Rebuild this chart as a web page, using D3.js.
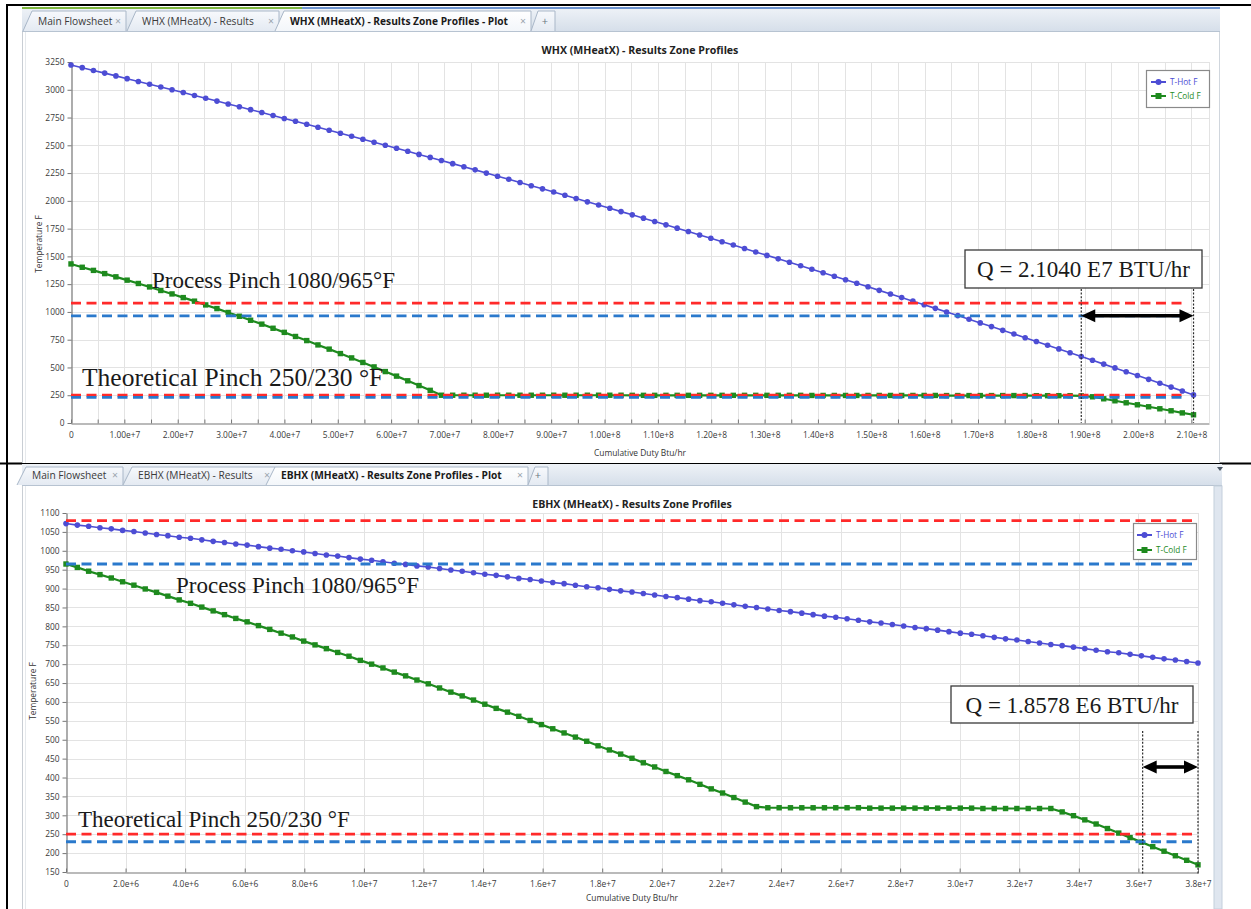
<!DOCTYPE html>
<html>
<head>
<meta charset="utf-8">
<title>Results Zone Profiles</title>
<script src="https://cdn.jsdelivr.net/npm/d3@7"></script>
<style>
  html, body { margin: 0; padding: 0; background: #ffffff; }
  svg { display: block; }
  .ui { font-family: "Open Sans", "Noto Sans", sans-serif; }
  .note { font-family: "Liberation Serif", "Times New Roman", serif; fill: #1a1a1a; }
</style>
</head>
<body>
<svg id="page" width="1251" height="909"></svg>
<script>
// ---------------- data ----------------
const MM = 1e6; // duty arrays are stored in MMBtu/hr

const seriesNames = ["T-Hot F", "T-Cold F"];
const xAxisTitle = "Cumulative Duty Btu/hr";
const yAxisTitle = "Temperature F";

const processPinch = [1080, 965];     // hot / cold, °F
const theoreticalPinch = [250, 230];  // hot / cold, °F

// WHX exchanger
const whxTabs = ["Main Flowsheet", "WHX (MHeatX) - Results", "WHX (MHeatX) - Results Zone Profiles - Plot"];
const whxTitle = "WHX (MHeatX) - Results Zone Profiles";
const whxQ = 2.1040e7;
const whxYTicks = [0, 250, 500, 750, 1000, 1250, 1500, 1750, 2000, 2250, 2500, 2750, 3000, 3250];
const whxXTicks = [0, 5e6, 1e7, 1.5e7, 2e7, 2.5e7, 3e7, 3.5e7, 4e7, 4.5e7, 5e7, 5.5e7, 6e7, 6.5e7, 7e7, 7.5e7,
  8e7, 8.5e7, 9e7, 9.5e7, 1e8, 1.05e8, 1.1e8, 1.15e8, 1.2e8, 1.25e8, 1.3e8, 1.35e8, 1.4e8, 1.45e8, 1.5e8,
  1.55e8, 1.6e8, 1.65e8, 1.7e8, 1.75e8, 1.8e8, 1.85e8, 1.9e8, 1.95e8, 2e8, 2.05e8, 2.1e8];
const whxDuty = [0, 2.104, 4.208, 6.312, 8.416, 10.52, 12.624, 14.728, 16.832, 18.936,
  21.04, 23.144, 25.248, 27.352, 29.456, 31.56, 33.664, 35.768, 37.872, 39.976,
  42.08, 44.184, 46.288, 48.392, 50.496, 52.6, 54.704, 56.808, 58.912, 61.016,
  63.12, 65.224, 67.328, 69.432, 71.536, 73.64, 75.744, 77.848, 79.952, 82.056,
  84.16, 86.264, 88.368, 90.472, 92.576, 94.68, 96.784, 98.888, 100.992, 103.096,
  105.2, 107.304, 109.408, 111.512, 113.616, 115.72, 117.824, 119.928, 122.032, 124.136,
  126.24, 128.344, 130.448, 132.552, 134.656, 136.76, 138.864, 140.968, 143.072, 145.176,
  147.28, 149.384, 151.488, 153.592, 155.696, 157.8, 159.904, 162.008, 164.112, 166.216,
  168.32, 170.424, 172.528, 174.632, 176.736, 178.84, 180.944, 183.048, 185.152, 187.256,
  189.36, 191.464, 193.568, 195.672, 197.776, 199.88, 201.984, 204.088, 206.192, 208.296,
  210.4];
const whxHot = [3223, 3199, 3174, 3150, 3125, 3100, 3075, 3050, 3025, 3000,
  2975, 2949, 2924, 2898, 2872, 2847, 2821, 2795, 2768, 2742,
  2716, 2689, 2663, 2636, 2609, 2582, 2555, 2528, 2501, 2473,
  2446, 2418, 2391, 2363, 2335, 2307, 2279, 2250, 2222, 2194,
  2165, 2136, 2108, 2079, 2050, 2021, 1991, 1962, 1933, 1903,
  1874, 1844, 1814, 1784, 1754, 1724, 1693, 1663, 1632, 1602,
  1571, 1540, 1509, 1478, 1447, 1416, 1384, 1353, 1321, 1290,
  1258, 1226, 1194, 1162, 1129, 1097, 1065, 1032, 999, 967,
  934, 901, 868, 834, 801, 768, 734, 700, 667, 633,
  599, 565, 530, 496, 462, 427, 393, 358, 323, 288,
  253];
const whxCold = [1432, 1402, 1374, 1345, 1316, 1286, 1256, 1225, 1193, 1162,
  1129, 1097, 1063, 1030, 995, 961, 925, 890, 853, 816,
  779, 742, 703, 665, 625, 586, 545, 505, 463, 422,
  380, 337, 294, 250, 250, 250, 250, 250, 250, 250,
  250, 250, 250, 250, 250, 250, 250, 250, 250, 250,
  249, 249, 249, 249, 249, 249, 249, 249, 249, 249,
  249, 249, 249, 249, 249, 249, 248, 248, 248, 248,
  248, 248, 248, 248, 248, 248, 248, 248, 247, 247,
  247, 247, 247, 247, 247, 247, 246, 246, 246, 246,
  244, 236, 218, 200, 182, 164, 146, 128, 110, 91,
  74];

// EBHX exchanger
const ebhxTabs = ["Main Flowsheet", "EBHX (MHeatX) - Results", "EBHX (MHeatX) - Results Zone Profiles - Plot"];
const ebhxTitle = "EBHX (MHeatX) - Results Zone Profiles";
const ebhxQ = 1.8578e6;
const ebhxYTicks = [150, 200, 250, 300, 350, 400, 450, 500, 550, 600, 650, 700, 750, 800, 850, 900, 950, 1000, 1050, 1100];
const ebhxXTicks = [0, 2e6, 4e6, 6e6, 8e6, 1e7, 1.2e7, 1.4e7, 1.6e7, 1.8e7, 2e7, 2.2e7, 2.4e7, 2.6e7, 2.8e7,
  3e7, 3.2e7, 3.4e7, 3.6e7, 3.8e7];
const ebhxDuty = [0, 0.38, 0.76, 1.14, 1.52, 1.9, 2.28, 2.66, 3.04, 3.42,
  3.8, 4.18, 4.56, 4.94, 5.32, 5.7, 6.08, 6.46, 6.84, 7.22,
  7.6, 7.98, 8.36, 8.74, 9.12, 9.5, 9.88, 10.26, 10.64, 11.02,
  11.4, 11.78, 12.16, 12.54, 12.92, 13.3, 13.68, 14.06, 14.44, 14.82,
  15.2, 15.58, 15.96, 16.34, 16.72, 17.1, 17.48, 17.86, 18.24, 18.62,
  19.0, 19.38, 19.76, 20.14, 20.52, 20.9, 21.28, 21.66, 22.04, 22.42,
  22.8, 23.18, 23.56, 23.94, 24.32, 24.7, 25.08, 25.46, 25.84, 26.22,
  26.6, 26.98, 27.36, 27.74, 28.12, 28.5, 28.88, 29.26, 29.64, 30.02,
  30.4, 30.78, 31.16, 31.54, 31.92, 32.3, 32.68, 33.06, 33.44, 33.82,
  34.2, 34.58, 34.96, 35.34, 35.72, 36.1, 36.48, 36.86, 37.24, 37.62,
  38.0];
const ebhxHot = [1072, 1068, 1065, 1061, 1058, 1054, 1051, 1047, 1043, 1040,
  1036, 1033, 1029, 1025, 1022, 1018, 1015, 1011, 1007, 1004,
  1000, 997, 993, 989, 986, 982, 978, 975, 971, 967,
  964, 960, 957, 953, 949, 946, 942, 938, 935, 931,
  927, 924, 920, 916, 913, 909, 905, 902, 898, 894,
  891, 887, 883, 879, 876, 872, 868, 865, 861, 857,
  853, 850, 846, 842, 839, 835, 831, 827, 824, 820,
  816, 812, 809, 805, 801, 797, 794, 790, 786, 782,
  779, 775, 771, 767, 764, 760, 756, 752, 749, 745,
  741, 737, 733, 730, 726, 722, 718, 714, 711, 707,
  703];
const ebhxCold = [965, 956, 946, 937, 928, 918, 909, 899, 890, 880,
  870, 861, 851, 841, 831, 821, 812, 802, 792, 782,
  772, 761, 751, 741, 731, 721, 710, 700, 690, 679,
  669, 658, 648, 637, 626, 616, 605, 594, 583, 573,
  562, 551, 540, 529, 518, 507, 496, 484, 473, 462,
  451, 439, 428, 416, 405, 394, 382, 370, 359, 347,
  335, 323, 320, 320, 320, 320, 320, 320, 320, 320,
  320, 319, 319, 319, 319, 319, 319, 319, 319, 319,
  319, 318, 318, 318, 318, 318, 318, 318, 309, 299,
  288, 277, 265, 253, 241, 229, 217, 205, 193, 181,
  169];

// ---------------- drawing ----------------
const svg = d3.select("#page");
const COLORS = {
  hot: "#4d4dd4", cold: "#1e8a1e",
  pinchHot: "#ff2a2a", pinchCold: "#2a79cc",
  grid: "#e3e3e3", axis: "#767676", tick: "#3a3a3a"
};

const defs = svg.append("defs");
const barGrad = defs.append("linearGradient").attr("id", "tabBarGrad")
  .attr("x1", 0).attr("x2", 0).attr("y1", 0).attr("y2", 1);
barGrad.append("stop").attr("offset", "0%").attr("stop-color", "#eef2f7");
barGrad.append("stop").attr("offset", "100%").attr("stop-color", "#d6dfea");
const tabGrad = defs.append("linearGradient").attr("id", "tabGrad")
  .attr("x1", 0).attr("x2", 0).attr("y1", 0).attr("y2", 1);
tabGrad.append("stop").attr("offset", "0%").attr("stop-color", "#f7f9fc");
tabGrad.append("stop").attr("offset", "100%").attr("stop-color", "#e4eaf2");
const actGrad = defs.append("linearGradient").attr("id", "activeTabGrad")
  .attr("x1", 0).attr("x2", 0).attr("y1", 0).attr("y2", 1);
actGrad.append("stop").attr("offset", "0%").attr("stop-color", "#ffffff");
actGrad.append("stop").attr("offset", "100%").attr("stop-color", "#f3f6fa");

// document table rules behind the two screenshots
svg.append("line").attr("x1", 6).attr("x2", 1251).attr("y1", 5).attr("y2", 5)
  .attr("stroke", "#000").attr("stroke-width", 2);
svg.append("line").attr("x1", 0).attr("x2", 1251).attr("y1", 463.5).attr("y2", 463.5)
  .attr("stroke", "#000").attr("stroke-width", 2);
svg.append("line").attr("x1", 7).attr("x2", 7).attr("y1", 4).attr("y2", 909)
  .attr("stroke", "#000").attr("stroke-width", 2);

const panels = [
  {
    tabs: whxTabs, title: whxTitle, duty: whxDuty, hot: whxHot, cold: whxCold, q: whxQ,
    yTicks: whxYTicks, xTicks: whxXTicks, yDomain: [0, 3250], xMax: 2.133e8,
    gridStep: 5e6, labelStep: 1e7, xDigits: 2,
    frame: { x: 22, y: 8, w: 1198, h: 455 },
    bar: { y: 8, h: 23, textY: 24.5, textX: [38, 142, 290], closeX: [118, 271, 523], plusX: 545, stripe: true },
    plot: { x0: 71, x1: 1209, y0: 62, y1: 423 },
    titleY: 54, xTickPad: 9, xTitleY: 456, yTitle: { x: 42, y: 244 },
    legend: { x: 1146, y: 70, w: 63, h: 37, rows: [82, 96], symX: 1151, textX: 1170 },
    processLabel: { x: 152, y: 288, size: 23 }, theoLabel: { x: 82, y: 386, size: 25.5 },
    pinchEnd: 2.086e8,
    qBox: { x: 965, y: 250, w: 237, h: 38 }, dotTop: 289, dotBottom: 423, arrowY: null
  },
  {
    tabs: ebhxTabs, title: ebhxTitle, duty: ebhxDuty, hot: ebhxHot, cold: ebhxCold, q: ebhxQ,
    yTicks: ebhxYTicks, xTicks: ebhxXTicks, yDomain: [150, 1100], xMax: 3.8e7,
    gridStep: 2e6, labelStep: 2e6, xDigits: 1,
    frame: { x: 22, y: 464, w: 1200, h: 445 },
    bar: { y: 464, h: 21, textY: 478.5, textX: [32, 138, 281], closeX: [115, 267, 520], plusX: 538, stripe: false },
    plot: { x0: 66, x1: 1198, y0: 513, y1: 872 },
    titleY: 508, xTickPad: 9, xTitleY: 901, yTitle: { x: 36, y: 691 },
    legend: { x: 1133, y: 523, w: 63, h: 36, rows: [535, 550], symX: 1137, textX: 1156 },
    processLabel: { x: 176, y: 593, size: 23 }, theoLabel: { x: 78, y: 827, size: 23 },
    pinchEnd: 3.783e7,
    qBox: { x: 951, y: 686, w: 242, h: 37 }, dotTop: 731, dotBottom: 874, arrowY: 767
  }
];

function drawTabs(g, p) {
  const f = p.frame, b = p.bar;
  g.append("rect").attr("x", f.x).attr("y", b.y).attr("width", f.w).attr("height", b.h)
    .attr("fill", "url(#tabBarGrad)");
  g.append("line").attr("x1", f.x).attr("x2", f.x + f.w).attr("y1", b.y + b.h + 0.5).attr("y2", b.y + b.h + 0.5)
    .attr("stroke", "#b7c3d1");
  if (b.stripe) {
    g.append("rect").attr("x", f.x).attr("y", b.y - 1).attr("width", 280).attr("height", 2).attr("fill", "#7fb83f");
    g.append("rect").attr("x", f.x + 280).attr("y", b.y - 1).attr("width", f.w - 280).attr("height", 2).attr("fill", "#6c93cf");
  }
  const top = b.y + 3, bot = b.y + b.h;
  const order = p.tabs.map((_, i) => i).filter(i => i !== p.tabs.length - 1).concat([p.tabs.length - 1]);
  order.forEach(i => {
    const active = i === p.tabs.length - 1;
    const x0 = b.textX[i] - 15, x1 = b.closeX[i] + 8;
    g.append("path")
      .attr("d", `M${x0},${bot} L${x0 + 9},${top} L${x1},${top} L${x1},${bot}`)
      .attr("fill", active ? "url(#activeTabGrad)" : "url(#tabGrad)")
      .attr("stroke", "#a9b7c8").attr("stroke-width", 1);
    g.append("text").attr("class", "ui").attr("x", b.textX[i]).attr("y", b.textY)
      .attr("font-size", 10.2).attr("font-weight", active ? 700 : 400)
      .attr("fill", active ? "#1a1a1a" : "#3a3a3a").text(p.tabs[i]);
    g.append("text").attr("class", "ui").attr("x", b.closeX[i]).attr("y", b.textY)
      .attr("font-size", 10.5).attr("text-anchor", "middle").attr("fill", "#9aa3ad").text("×");
  });
  g.append("path")
    .attr("d", `M${b.closeX[2] + 8},${bot} L${b.closeX[2] + 15},${top} L${b.plusX + 10},${top} L${b.plusX + 10},${bot}`)
    .attr("fill", "url(#tabGrad)").attr("stroke", "#a9b7c8");
  g.append("text").attr("class", "ui").attr("x", b.plusX).attr("y", b.textY)
    .attr("font-size", 11).attr("text-anchor", "middle").attr("fill", "#6c7580").text("+");
}

function drawPanel(p) {
  const g = svg.append("g");
  const f = p.frame;
  g.append("rect").attr("x", f.x).attr("y", f.y).attr("width", f.w).attr("height", f.h)
    .attr("fill", "#ffffff");
  drawTabs(g, p);
  const innerTop = p.bar.y + p.bar.h + 1;
  g.append("line").attr("x1", f.x + 0.5).attr("x2", f.x + 0.5).attr("y1", innerTop).attr("y2", f.y + f.h)
    .attr("stroke", "#c9ced4");
  g.append("line").attr("x1", f.x + 3.5).attr("x2", f.x + 3.5).attr("y1", innerTop).attr("y2", f.y + f.h)
    .attr("stroke", "#e6e9ec");
  g.append("line").attr("x1", f.x + f.w - 0.5).attr("x2", f.x + f.w - 0.5).attr("y1", innerTop).attr("y2", f.y + f.h)
    .attr("stroke", "#d0d6dd");

  const x = d3.scaleLinear().domain([0, p.xMax]).range([p.plot.x0, p.plot.x1]);
  const y = d3.scaleLinear().domain(p.yDomain).range([p.plot.y1, p.plot.y0]);

  // grid
  const grid = g.append("g").attr("stroke", COLORS.grid).attr("stroke-width", 1);
  grid.selectAll("line.h").data(p.yTicks.slice(1)).join("line").attr("class", "h")
    .attr("x1", p.plot.x0).attr("x2", p.plot.x1)
    .attr("y1", d => Math.round(y(d)) + 0.5).attr("y2", d => Math.round(y(d)) + 0.5);
  const vLines = d3.range(p.gridStep, p.xMax + 1, p.gridStep);
  if (vLines[vLines.length - 1] < p.xMax - 1) vLines.push(p.xMax);
  grid.selectAll("line.v").data(vLines).join("line").attr("class", "v")
    .attr("x1", d => Math.round(x(d)) + 0.5).attr("x2", d => Math.round(x(d)) + 0.5)
    .attr("y1", p.plot.y0).attr("y2", p.plot.y1);

  // title
  g.append("text").attr("class", "ui").attr("x", (p.plot.x0 + p.plot.x1) / 2).attr("y", p.titleY)
    .attr("text-anchor", "middle").attr("font-size", 10.6).attr("font-weight", 700).attr("fill", "#222")
    .text(p.title);

  // axes
  const isLabel = d => Math.abs(d / p.labelStep - Math.round(d / p.labelStep)) < 1e-6;
  const xFmt = d => d === 0 ? "0" : (isLabel(d) ? d.toExponential(p.xDigits) : "");
  const yAxis = d3.axisLeft(y).tickValues(p.yTicks).tickFormat(d => String(d))
    .tickSize(4).tickSizeOuter(0).tickPadding(3);
  const xAxis = d3.axisBottom(x).tickValues(p.xTicks).tickFormat(xFmt)
    .tickSizeInner(-4).tickSizeOuter(0).tickPadding(p.xTickPad);
  const gy = g.append("g").attr("transform", `translate(${p.plot.x0 + 0.5},0)`).call(yAxis);
  const gx = g.append("g").attr("transform", `translate(0,${p.plot.y1 + 0.5})`).call(xAxis);
  [gy, gx].forEach(a => {
    a.attr("font-family", null).attr("font-size", null);
    a.select(".domain").attr("stroke", COLORS.axis).attr("stroke-width", 1.2);
    a.selectAll(".tick line").attr("stroke", COLORS.axis);
    a.selectAll(".tick text").attr("class", "ui").attr("font-size", 8.4).attr("fill", COLORS.tick);
  });

  g.append("text").attr("class", "ui").attr("x", (p.plot.x0 + p.plot.x1) / 2).attr("y", p.xTitleY)
    .attr("text-anchor", "middle").attr("font-size", 8.4).attr("fill", "#333").text(xAxisTitle);
  g.append("text").attr("class", "ui")
    .attr("transform", `translate(${p.yTitle.x},${p.yTitle.y}) rotate(-90)`)
    .attr("text-anchor", "middle").attr("font-size", 8.4).attr("fill", "#333").text(yAxisTitle);

  // series
  const hotPts = p.duty.map((d, i) => ({ q: d * MM, t: p.hot[i] }));
  const coldPts = p.duty.map((d, i) => ({ q: d * MM, t: p.cold[i] }));
  const line = d3.line().x(d => x(d.q)).y(d => y(d.t));
  const sg = g.append("g");
  sg.append("path").datum(hotPts).attr("d", line).attr("fill", "none")
    .attr("stroke", COLORS.hot).attr("stroke-width", 1.6);
  sg.selectAll("circle.hot").data(hotPts).join("circle").attr("class", "hot")
    .attr("cx", d => x(d.q)).attr("cy", d => y(d.t)).attr("r", 2.8).attr("fill", COLORS.hot);
  sg.append("path").datum(coldPts).attr("d", line).attr("fill", "none")
    .attr("stroke", COLORS.cold).attr("stroke-width", 2.2);
  sg.selectAll("rect.cold").data(coldPts).join("rect").attr("class", "cold")
    .attr("x", d => x(d.q) - 2.7).attr("y", d => y(d.t) - 2.7).attr("width", 5.4).attr("height", 5.4)
    .attr("fill", COLORS.cold);

  // legend
  const L = p.legend;
  const lg = g.append("g");
  lg.append("rect").attr("x", L.x + 0.5).attr("y", L.y + 0.5).attr("width", L.w).attr("height", L.h)
    .attr("fill", "#fff").attr("stroke", "#8a8a8a").attr("stroke-width", 1.2);
  [[seriesNames[0], COLORS.hot, "circle"], [seriesNames[1], COLORS.cold, "square"]].forEach(([name, col, shape], i) => {
    const ry = L.rows[i];
    lg.append("line").attr("x1", L.symX).attr("x2", L.symX + 15).attr("y1", ry).attr("y2", ry)
      .attr("stroke", col).attr("stroke-width", 2);
    if (shape === "circle") {
      lg.append("circle").attr("cx", L.symX + 7.5).attr("cy", ry).attr("r", 3).attr("fill", col);
    } else {
      lg.append("rect").attr("x", L.symX + 4.5).attr("y", ry - 3).attr("width", 6).attr("height", 6).attr("fill", col);
    }
    lg.append("text").attr("class", "ui").attr("x", L.textX).attr("y", ry + 3)
      .attr("font-size", 8.2).attr("fill", col).text(name);
  });

  // pinch reference lines
  const ag = g.append("g");
  const pinchLines = [
    [processPinch[0], COLORS.pinchHot], [processPinch[1], COLORS.pinchCold],
    [theoreticalPinch[0], COLORS.pinchHot], [theoreticalPinch[1], COLORS.pinchCold]
  ];
  ag.selectAll("line.pinch").data(pinchLines).join("line").attr("class", "pinch")
    .attr("x1", x(0)).attr("x2", x(p.pinchEnd))
    .attr("y1", d => y(d[0])).attr("y2", d => y(d[0]))
    .attr("stroke", d => d[1]).attr("stroke-width", 2.8).attr("stroke-dasharray", "10,5.5");

  ag.append("text").attr("class", "note").attr("x", p.processLabel.x).attr("y", p.processLabel.y)
    .attr("font-size", p.processLabel.size)
    .text(`Process Pinch ${processPinch[0]}/${processPinch[1]}°F`);
  ag.append("text").attr("class", "note").attr("x", p.theoLabel.x).attr("y", p.theoLabel.y)
    .attr("font-size", p.theoLabel.size)
    .text(`Theoretical Pinch ${theoreticalPinch[0]}/${theoreticalPinch[1]} °F`);

  // duty span bracket
  const endQ = p.duty[p.duty.length - 1] * MM;
  const xl = x(endQ - p.q), xr = x(endQ);
  ag.selectAll("line.span").data([xl, xr]).join("line").attr("class", "span")
    .attr("x1", d => d).attr("x2", d => d).attr("y1", p.dotTop).attr("y2", p.dotBottom)
    .attr("stroke", "#2b2b2b").attr("stroke-width", 1.2).attr("stroke-dasharray", "2,1.6");
  const ay = p.arrowY === null ? y(processPinch[1]) : p.arrowY;
  const head = 14, half = 6.5;
  ag.append("line").attr("x1", xl + head - 2).attr("x2", xr - head + 2).attr("y1", ay).attr("y2", ay)
    .attr("stroke", "#000").attr("stroke-width", 3.6);
  ag.append("path").attr("d", `M${xl},${ay} L${xl + head},${ay - half} L${xl + head},${ay + half} Z`).attr("fill", "#000");
  ag.append("path").attr("d", `M${xr},${ay} L${xr - head},${ay - half} L${xr - head},${ay + half} Z`).attr("fill", "#000");

  const B = p.qBox;
  ag.append("rect").attr("x", B.x).attr("y", B.y).attr("width", B.w).attr("height", B.h)
    .attr("fill", "#fff").attr("stroke", "#3a3a3a").attr("stroke-width", 1.3);
  const [mant, expo] = p.q.toExponential(4).split("e");
  ag.append("text").attr("class", "note").attr("x", B.x + B.w / 2).attr("y", B.y + B.h / 2 + 8)
    .attr("text-anchor", "middle").attr("font-size", 23)
    .text(`Q = ${mant} E${+expo} BTU/hr`);
  return g;
}

panels.forEach(drawPanel);

// scroll bar strip and tab menu glyph on the lower window
svg.append("rect").attr("x", 1214).attr("y", 486).attr("width", 8).attr("height", 423)
  .attr("fill", "#dfe6ef").attr("stroke", "#c4cfdc");
svg.append("path").attr("d", "M1217,467 L1223,467 L1220,471 Z").attr("fill", "#4a5563");
</script>
</body>
</html>
